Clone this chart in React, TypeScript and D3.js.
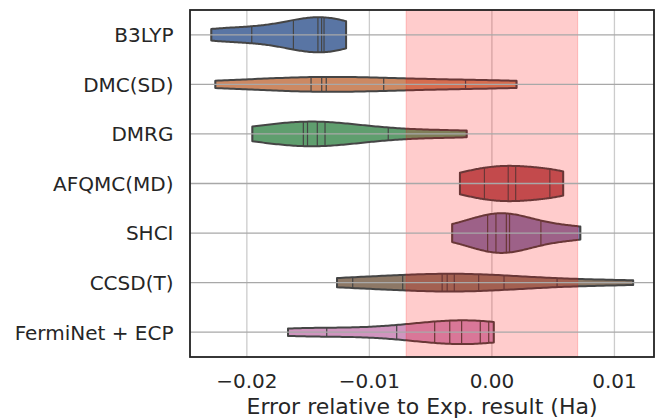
import React from 'react';
import * as d3 from 'd3';

const methods = ['B3LYP', 'DMC(SD)', 'DMRG', 'AFQMC(MD)', 'SHCI', 'CCSD(T)', 'FermiNet + ECP'];
const b3lyp = [-0.0229, -0.0196, -0.0162, -0.0142, -0.0139, -0.0137, -0.0119];
const dmcSD = [-0.02257, -0.01476, -0.01389, -0.01352, -0.00883, -0.00215, 0.00201];
const dmrg = [-0.01955, -0.01539, -0.01505, -0.01425, -0.01362, -0.00846, -0.00206];
const afqmc = [-0.00261, -0.00061, 0.00133, 0.00194, 0.00473, 0.00582];
const shci = [-0.00324, -0.00035, 0.00033, 0.00118, 0.00144, 0.004, 0.00722];
const ccsdt = [-0.01264, -0.01136, -0.00728, -0.00406, -0.00365, -0.00307, -0.00108, 0.00099, 0.00532, 0.01153];
const ferminet = [-0.01664, -0.01348, -0.00777, -0.00467, -0.00344, -0.00247, -0.00095, -0.00026, 0.00015];
const seriesData = [b3lyp, dmcSD, dmrg, afqmc, shci, ccsdt, ferminet];
const palette = ['#4c72b0', '#dd8452', '#55a868', '#c44e52', '#8172b3', '#937860', '#da8bc3'];
const xTicks = [-0.02, -0.01, 0, 0.01];
const bandLimits = [-0.007, 0.007];
const xDomain = [-0.02464, 0.01323];
const xLabel = 'Error relative to Exp. result (Ha)';

const W = 658, H = 418;
const L = 190, R = 654, T = 10, B = 357;
const FONT = 'DejaVu Sans, sans-serif';
const TICK_FS = 20;
const LABEL_FS = 22;

function desat(c: string, p: number) {
  const h = d3.hsl(c);
  h.s *= p;
  return h.formatHex();
}

function makeKde(data: number[]) {
  const n = data.length;
  const sd = d3.deviation(data) as number;
  const bw = sd * Math.pow(n, -0.2);
  const norm = 1 / (n * bw * Math.sqrt(2 * Math.PI));
  return (x: number) => {
    let s = 0;
    for (const v of data) {
      const z = (x - v) / bw;
      s += Math.exp(-0.5 * z * z);
    }
    return s * norm;
  };
}

export default function App() {
  const x = d3.scaleLinear().domain(xDomain).range([L, R]);
  const y = d3.scaleBand<string>().domain(methods).range([T, B]).padding(0);
  const bw = y.bandwidth();
  const halfMax = 0.4 * bw;

  const gridN = 100;
  const groups = seriesData.map((data) => {
    const k = makeKde(data);
    const lo = d3.min(data) as number;
    const hi = d3.max(data) as number;
    const grid = d3.range(gridN).map((i) => lo + ((hi - lo) * i) / (gridN - 1));
    const dens = grid.map(k);
    return { data, k, grid, dens };
  });
  const maxD = d3.max(groups, (g) => d3.max(g.dens) as number) as number;

  const gray = '#454545';

  return (
    <svg width={W} height={H} style={{ position: 'absolute', left: 0, top: 0, background: '#fff' }} fontFamily={FONT}>
      <rect x={0} y={0} width={W} height={H} fill="#fff" />
      {/* vertical gridlines */}
      {xTicks.map((t) => (
        <line key={'vg' + t} x1={x(t)} x2={x(t)} y1={T} y2={B} stroke="#cccccc" strokeWidth={1.3} />
      ))}
      {/* violins */}
      {groups.map((g, i) => {
        const cy = (y(methods[i]) as number) + bw / 2;
        const top = g.grid.map((v, j) => [x(v), cy - (g.dens[j] / maxD) * halfMax] as [number, number]);
        const bot = g.grid.map((v, j) => [x(v), cy + (g.dens[j] / maxD) * halfMax] as [number, number]).reverse();
        const pts = top.concat(bot);
        const path = d3.line()(pts) + 'Z';
        return (
          <g key={methods[i]}>
            <path d={path} fill={desat(palette[i], 0.75)} stroke={gray} strokeWidth={2} strokeLinejoin="round" />
            {g.data.map((v, j) => {
              const hw = (g.k(v) / maxD) * halfMax;
              return (
                <line key={j} x1={x(v)} x2={x(v)} y1={cy - hw} y2={cy + hw} stroke={gray} strokeWidth={1.2} />
              );
            })}
          </g>
        );
      })}
      {/* red band */}
      <rect
        x={x(bandLimits[0])}
        y={T}
        width={x(bandLimits[1]) - x(bandLimits[0])}
        height={B - T}
        fill="rgba(255,0,0,0.2)"
        stroke="rgba(255,0,0,0.2)"
        strokeWidth={1}
      />
      {/* horizontal gridlines */}
      {methods.map((m) => {
        const cy = (y(m) as number) + bw / 2;
        return <line key={'hg' + m} x1={L} x2={R} y1={cy} y2={cy} stroke="#a8a8a8" strokeWidth={1.3} />;
      })}
      {/* frame */}
      <rect x={L} y={T} width={R - L} height={B - T} fill="none" stroke="#222" strokeWidth={1.8} />
      {/* y tick labels */}
      {methods.map((m) => {
        const cy = (y(m) as number) + bw / 2;
        return (
          <text key={'yl' + m} x={L - 16.5} y={cy + 0.729 * TICK_FS / 2} textAnchor="end" fontSize={TICK_FS} fill="#262626">
            {m}
          </text>
        );
      })}
      {/* x tick labels */}
      {xTicks.map((t) => (
        <text key={'xl' + t} x={x(t)} y={387.5} textAnchor="middle" fontSize={TICK_FS} fill="#262626">
          {d3.format('.2f')(t)}
        </text>
      ))}
      <text x={(L + R) / 2} y={414} textAnchor="middle" fontSize={LABEL_FS} fill="#262626">
        {xLabel}
      </text>
    </svg>
  );
}
